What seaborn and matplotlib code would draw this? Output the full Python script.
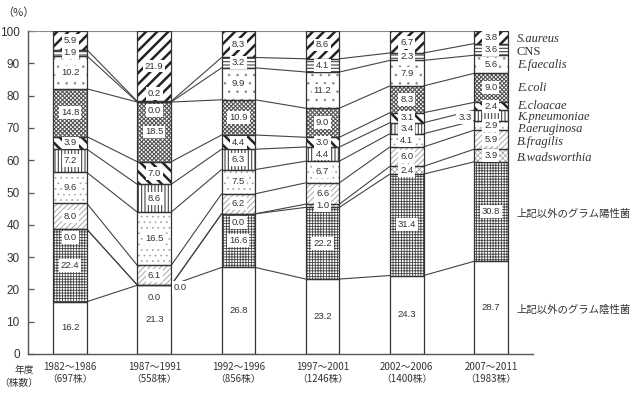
import numpy as np
import pandas as pd
import matplotlib
matplotlib.use("Agg")
import matplotlib.pyplot as plt
import seaborn as sns

# ---------------- data ----------------
periods = ["1982～1986", "1987～1991", "1992～1996", "1997～2001", "2002～2006", "2007～2011"]
counts = ["（697株）", "（558株）", "（856株）", "（1246株）", "（1400株）", "（1983株）"]
series_names = ["上記以外のグラム陰性菌", "上記以外のグラム陽性菌", "B.wadsworthia", "B.fragilis",
                "P.aeruginosa", "K.pneumoniae", "E.cloacae", "E.coli", "E.faecalis", "CNS", "S.aureus"]
gram_neg = [16.2, 21.3, 26.8, 23.2, 24.3, 28.7]
gram_pos = [22.4, 0.0, 16.6, 22.2, 31.4, 30.8]
b_wads = [0.0, 0.0, 0.0, 1.0, 2.4, 3.9]
b_frag = [8.0, 6.1, 6.2, 6.6, 6.0, 5.9]
p_aer = [9.6, 16.5, 7.5, 6.7, 4.1, 2.9]
k_pn = [7.2, 8.6, 6.3, 4.4, 3.4, 3.3]
e_clo = [3.9, 7.0, 4.4, 3.0, 3.1, 2.4]
e_coli = [14.8, 18.5, 10.9, 9.0, 8.3, 9.0]
e_fae = [10.2, 0.0, 9.9, 11.2, 7.9, 5.6]
cns = [1.9, 0.2, 3.2, 4.1, 2.3, 3.6]
s_aur = [5.9, 21.9, 8.3, 8.6, 6.7, 3.8]
yticks = list(range(0, 101, 10))

all_series = [gram_neg, gram_pos, b_wads, b_frag, p_aer, k_pn, e_clo, e_coli, e_fae, cns, s_aur]

# ---------------- style ----------------
sns.set_style("white")
plt.rcParams['font.family'] = ['Noto Sans CJK JP', 'DejaVu Sans']

# face, hatch, hatch colour, hatch linewidth
styles = [
    ("white", "", "#333333", 0.5),
    ("white", "++++++", "#444444", 0.6),
    ("white", "xxxxxx", "#9a9a9a", 0.5),
    ("white", "//////", "#9a9a9a", 0.6),
    ("white", "...", "#a0a0a0", 0.5),
    ("white", "|||||", "#444444", 0.8),
    ("white", "\\\\\\", "#222222", 1.8),
    ("white", "xxxxxxxx", "#555555", 0.8),
    ("white", "..", "#8a8a8a", 0.6),
    ("white", "-----", "#444444", 0.8),
    ("white", "///", "#222222", 1.8),
]

# legend label y-positions (data units) and label placement tweaks
legend_y = [13.6, 43.3, 60.8, 65.7, 69.6, 73.3, 76.8, 82.3, 89.5, 93.6, 97.5]
special = {(1, 1): (1.0, 17.6), (1, 2): (1.31, 20.6), (1, 9): (1.0, 80.6), (5, 5): (4.69, 73.3)}

W, H = 633, 408
fig = plt.figure(figsize=(W / 100, H / 100), dpi=100)
ax = fig.add_axes([28 / W, 1 - 354 / H, 505 / W, 323 / H])

n = len(periods)
bottom = np.zeros(n)
tops = []
for k, vals in enumerate(all_series):
    face, hatch, hc, hlw = styles[k]
    df = pd.DataFrame({"period": periods, "v": vals})
    before = len(ax.patches)
    with plt.rc_context({"hatch.linewidth": hlw, "hatch.color": hc}):
        sns.barplot(data=df, x="period", y="v", order=periods, bottom=bottom.copy(),
                    width=0.4, color=face, saturation=1, hatch=hatch, edgecolor=hc,
                    linewidth=0, errorbar=None, ax=ax, zorder=1)
        for p in ax.patches[before:]:
            if hasattr(p, "set_hatch_linewidth"):
                p.set_hatch_linewidth(hlw)
    # outlines
    sns.barplot(data=df, x="period", y="v", order=periods, bottom=bottom.copy(),
                width=0.4, fill=False, color="#333333", saturation=1,
                linewidth=0.9, errorbar=None, ax=ax, zorder=2)
    bottom = bottom + np.array(vals)
    tops.append(bottom.copy())

# series (connector) lines
for k in range(len(all_series) - 1):
    t = tops[k]
    for i in range(n - 1):
        ax.plot([i + 0.2, i + 0.8], [t[i], t[i + 1]], color="#444444", lw=0.8, zorder=1.5)

# value labels
cum_bottom = np.zeros(n)
for k, vals in enumerate(all_series):
    for i, v in enumerate(vals):
        top = cum_bottom[i] + v
        if (i, k) in special:
            x, y = special[(i, k)]
        elif v < 0.5:
            x, y = i, top - 2.6
        else:
            x, y = i, cum_bottom[i] + v / 2
        ax.text(x, y, f"{v:.1f}", ha="center", va="center", fontsize=6.8,
                family="Liberation Sans", color="#333333", zorder=6,
                bbox=dict(boxstyle="square,pad=0.2", fc="white", ec="none"))
    cum_bottom = cum_bottom + np.array(vals)

# legend texts at right
ytr = ax.get_yaxis_transform()
for k, name in enumerate(series_names):
    if k < 2:
        ax.text(0.968, legend_y[k], name, transform=ytr, ha="left", va="center",
                fontsize=7.5, color="#333333", clip_on=False)
    elif name == "CNS":
        ax.text(0.968, legend_y[k], name, transform=ytr, ha="left", va="center",
                fontsize=9, family="Liberation Serif", color="#333333", clip_on=False)
    else:
        ax.text(0.968, legend_y[k], name, transform=ytr, ha="left", va="center",
                fontsize=9, family="Liberation Serif", style="italic", color="#333333",
                clip_on=False)

# axes
ax.set_xlim(-0.5, n - 0.5)
ax.set_ylim(0, 100)
ax.set_yticks(yticks)
ax.set_yticklabels([str(t) for t in yticks], fontsize=8.5, family="Liberation Sans", color="#333333")
ax.set_xticks(range(n))
ax.set_xticklabels([f"{p}\n{c}" for p, c in zip(periods, counts)], fontsize=7, color="#333333",
                   linespacing=1.25)
ax.set_xticks(np.arange(-0.5, n, 1.0), minor=True)
ax.tick_params(axis="x", which="major", length=0, pad=6)
ax.tick_params(axis="x", which="minor", direction="in", length=3, color="#555555", width=0.9)
ax.tick_params(axis="y", direction="in", length=4, color="#555555", width=0.9, pad=6, left=True)
ax.set_xlabel("")
ax.set_ylabel("")
for s in ["top", "right"]:
    ax.spines[s].set_visible(False)
for s in ["left", "bottom"]:
    ax.spines[s].set_color("#555555")
    ax.spines[s].set_linewidth(1.0)
ax.axhline(100, xmin=0, xmax=(n - 1 + 0.2 + 0.5) / n, color="#888888", lw=0.8, zorder=1)

fig.text(2 / W, 1 - 13 / H, "（%）", ha="left", va="center", fontsize=8, color="#333333")
fig.text(24 / W, 1 - 370 / H, "年度", ha="center", va="center", fontsize=7, color="#333333")
fig.text(19 / W, 1 - 383 / H, "（株数）", ha="center", va="center", fontsize=7, color="#333333")

fig.savefig("out.png", dpi=100)
